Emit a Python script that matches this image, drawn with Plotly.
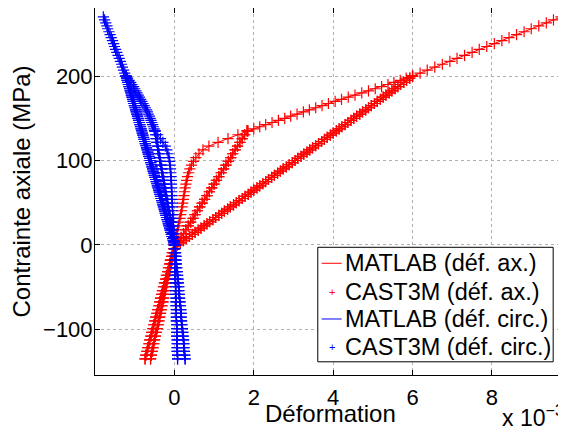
import plotly.graph_objects as go

# ---------------- Data (strain in units of 1e-3, stress in MPa) ----------------
# stress levels of each leg of the cyclic test
S_LOAD1 = [0, 4.5, 9, 13.5, 18, 22.5, 27, 31.5, 36, 40.5, 45, 49.5, 54, 58.5, 63, 67.5,
           72, 76.5, 81, 85.5, 90, 94.5, 99, 103.5, 108, 112.5, 117, 121.5, 126, 130.5, 135]
S_COMP = [0, -4.5, -9, -13.5, -18, -22.5, -27, -31.5, -36, -40.5, -45, -49.5, -54, -58.5, -63,
          -67.5, -72, -76.5, -81, -85.5, -90, -94.5, -99, -103.5, -108, -112.5, -117, -121.5,
          -126, -130.5, -135]
S_LOAD2 = [135, 137.5, 140, 142.5, 145, 147.5, 150, 152.5, 155, 157.5, 160, 162.5, 165, 167.5,
           170, 172.5, 175, 177.5, 180, 182.5, 185, 187.5, 190, 192.5, 195, 197.5, 200]
S_ELAS2 = [0, 2.5, 5, 7.5, 10, 12.5, 15, 17.5, 20, 22.5, 25, 27.5, 30, 32.5, 35, 37.5, 40, 42.5,
           45, 47.5, 50, 52.5, 55, 57.5, 60, 62.5, 65, 67.5, 70, 72.5, 75, 77.5, 80, 82.5, 85,
           87.5, 90, 92.5, 95, 97.5, 100, 102.5, 105, 107.5, 110, 112.5, 115, 117.5, 120, 122.5,
           125, 127.5, 130, 132.5, 135, 137.5, 140, 142.5, 145, 147.5, 150, 152.5, 155, 157.5,
           160, 162.5, 165, 167.5, 170, 172.5, 175, 177.5, 180, 182.5, 185, 187.5, 190, 192.5,
           195, 197.5, 200]
S_LOAD3 = [200, 203.5, 207, 210.5, 214, 217.5, 221, 224.5, 228, 231.5, 235, 238.5, 242, 245.5,
           249, 252.5, 256, 259.5, 263, 266.5, 270]

# axial strain (déf. ax.)
AX_LOAD1 = [0.0, 0.02, 0.04, 0.06, 0.08, 0.10, 0.12, 0.14, 0.16, 0.18, 0.195, 0.21, 0.225, 0.24,
            0.255, 0.27, 0.29, 0.31, 0.33, 0.36, 0.39, 0.43, 0.48, 0.54, 0.62, 0.72, 0.87, 1.10,
            1.35, 1.60, 1.85]
AX_ELAS1 = [0.05, 0.11, 0.17, 0.23, 0.29, 0.35, 0.41, 0.47, 0.52, 0.58, 0.64, 0.70, 0.76, 0.82,
            0.88, 0.94, 1.00, 1.06, 1.12, 1.18, 1.24, 1.30, 1.36, 1.42, 1.47, 1.53, 1.59, 1.65,
            1.71, 1.77, 1.83]
AX_COMP1 = [0.0, -0.02, -0.05, -0.07, -0.10, -0.12, -0.15, -0.17, -0.20, -0.22, -0.25, -0.27,
            -0.30, -0.32, -0.35, -0.37, -0.39, -0.42, -0.44, -0.47, -0.49, -0.52, -0.54, -0.57,
            -0.59, -0.62, -0.64, -0.67, -0.69, -0.72, -0.74]
AX_LOAD2 = [1.85, 2.00, 2.15, 2.30, 2.46, 2.62, 2.78, 2.93, 3.09, 3.25, 3.40, 3.56, 3.72, 3.88,
            4.05, 4.21, 4.38, 4.55, 4.72, 4.89, 5.06, 5.22, 5.38, 5.53, 5.69, 5.84, 6.00]
AX_ELAS2 = [0.08, 0.15, 0.23, 0.30, 0.38, 0.45, 0.52, 0.60, 0.67, 0.75, 0.82, 0.89, 0.97, 1.04,
            1.12, 1.19, 1.26, 1.34, 1.41, 1.49, 1.56, 1.63, 1.71, 1.78, 1.86, 1.93, 2.00, 2.08,
            2.15, 2.23, 2.30, 2.37, 2.45, 2.52, 2.60, 2.67, 2.74, 2.82, 2.89, 2.97, 3.04, 3.11,
            3.19, 3.26, 3.34, 3.41, 3.48, 3.56, 3.63, 3.71, 3.78, 3.85, 3.93, 4.00, 4.08, 4.15,
            4.22, 4.30, 4.37, 4.45, 4.52, 4.59, 4.67, 4.74, 4.82, 4.89, 4.96, 5.04, 5.11, 5.19,
            5.26, 5.33, 5.41, 5.48, 5.56, 5.63, 5.70, 5.78, 5.85, 5.93, 6.00]
AX_COMP2 = [0.02, 0.00, -0.02, -0.04, -0.06, -0.08, -0.10, -0.12, -0.15, -0.17, -0.19, -0.21,
            -0.23, -0.25, -0.27, -0.29, -0.31, -0.33, -0.35, -0.37, -0.39, -0.41, -0.43, -0.46,
            -0.48, -0.50, -0.52, -0.54, -0.56, -0.58, -0.60]
AX_LOAD3 = [6.00, 6.19, 6.37, 6.56, 6.75, 6.94, 7.12, 7.31, 7.50, 7.68, 7.87, 8.06, 8.25, 8.43,
            8.62, 8.81, 8.99, 9.18, 9.37, 9.55, 9.74]

# circumferential strain (déf. circ.)
CI_LOAD1 = [0.0, -0.005, -0.01, -0.015, -0.02, -0.025, -0.03, -0.035, -0.04, -0.045, -0.05,
            -0.052, -0.056, -0.06, -0.064, -0.068, -0.072, -0.077, -0.082, -0.09, -0.098, -0.107,
            -0.12, -0.135, -0.16, -0.19, -0.23, -0.29, -0.35, -0.42, -0.49]
CI_ELAS1 = [0.01, -0.01, -0.02, -0.04, -0.06, -0.07, -0.09, -0.11, -0.12, -0.14, -0.16, -0.17,
            -0.19, -0.21, -0.22, -0.24, -0.26, -0.27, -0.29, -0.31, -0.32, -0.34, -0.36, -0.37,
            -0.39, -0.41, -0.42, -0.44, -0.46, -0.47, -0.49]
CI_COMP1 = [0.01, 0.02, 0.03, 0.04, 0.04, 0.05, 0.06, 0.07, 0.08, 0.09, 0.10, 0.11, 0.11, 0.12,
            0.13, 0.14, 0.15, 0.16, 0.17, 0.17, 0.18, 0.19, 0.20, 0.21, 0.22, 0.23, 0.24, 0.24,
            0.25, 0.26, 0.27]
CI_LOAD2 = [-0.49, -0.51, -0.53, -0.55, -0.57, -0.59, -0.61, -0.63, -0.66, -0.68, -0.70, -0.73,
            -0.76, -0.79, -0.82, -0.85, -0.88, -0.91, -0.94, -0.97, -1.00, -1.03, -1.07, -1.10,
            -1.14, -1.18, -1.22]
CI_ELAS2 = [0.0, -0.015, -0.031, -0.046, -0.061, -0.076, -0.092, -0.107, -0.122, -0.137, -0.153,
            -0.168, -0.183, -0.198, -0.214, -0.229, -0.244, -0.259, -0.275, -0.290, -0.305,
            -0.320, -0.336, -0.351, -0.366, -0.381, -0.397, -0.412, -0.427, -0.442, -0.458,
            -0.473, -0.488, -0.503, -0.519, -0.534, -0.549, -0.564, -0.580, -0.595, -0.610,
            -0.625, -0.641, -0.656, -0.671, -0.686, -0.702, -0.717, -0.732, -0.747, -0.763,
            -0.778, -0.793, -0.808, -0.824, -0.839, -0.854, -0.869, -0.885, -0.900, -0.915,
            -0.930, -0.946, -0.961, -0.976, -0.991, -1.007, -1.022, -1.037, -1.052, -1.068,
            -1.083, -1.098, -1.113, -1.129, -1.144, -1.159, -1.174, -1.190, -1.205, -1.220]
CI_COMP2 = [0.00, 0.00, 0.01, 0.01, 0.01, 0.01, 0.02, 0.02, 0.02, 0.02, 0.03, 0.03, 0.03, 0.03,
            0.04, 0.04, 0.04, 0.05, 0.05, 0.05, 0.05, 0.06, 0.06, 0.06, 0.06, 0.07, 0.07, 0.07,
            0.07, 0.08, 0.08]
CI_LOAD3 = [-1.22, -1.25, -1.28, -1.31, -1.33, -1.36, -1.39, -1.42, -1.45, -1.48, -1.51, -1.53,
            -1.56, -1.59, -1.62, -1.65, -1.68, -1.70, -1.73, -1.76, -1.79]

X_TICKS = [0, 2, 4, 6, 8]
Y_TICKS = [-100, 0, 100, 200]

LABELS = ["MATLAB (déf. ax.)", "CAST3M (déf. ax.)", "MATLAB (déf. circ.)", "CAST3M (déf. circ.)"]
X_TITLE = "Déformation"
Y_TITLE = "Contrainte axiale (MPa)"
X_EXPONENT = "x 10<sup>−3</sup>"


def history(load1, elas1, comp1, load2, elas2, comp2, load3):
    """Chain the legs in the loading order of the cyclic test."""
    return (load1 + elas1[::-1] + comp1 + comp1[::-1] + elas1 + load2
            + elas2[::-1] + comp2 + comp2[::-1] + elas2 + load3)


stress = history(S_LOAD1, S_LOAD1, S_COMP, S_LOAD2, S_ELAS2, S_COMP, S_LOAD3)
eps_ax = history(AX_LOAD1, AX_ELAS1, AX_COMP1, AX_LOAD2, AX_ELAS2, AX_COMP2, AX_LOAD3)
eps_ci = history(CI_LOAD1, CI_ELAS1, CI_COMP1, CI_LOAD2, CI_ELAS2, CI_COMP2, CI_LOAD3)

RED = "#ff0000"
BLUE = "#0000ff"
FONT = "Liberation Sans, Arial, Helvetica, sans-serif"

fig = go.Figure()
for eps, col, lab_line, lab_mark in [(eps_ax, RED, LABELS[0], LABELS[1]),
                                     (eps_ci, BLUE, LABELS[2], LABELS[3])]:
    fig.add_trace(go.Scatter(x=eps, y=stress, mode="lines", name=lab_line,
                             line=dict(color=col, width=1), showlegend=False))
    fig.add_trace(go.Scatter(x=eps, y=stress, mode="markers", name=lab_mark,
                             marker=dict(symbol="cross-thin", size=8, color=col,
                                         line=dict(color=col, width=1.2)),
                             showlegend=False))

# ---- legend box drawn in the MATLAB style (paper coordinates of the plot area) ----
LEG_X0, LEG_X1, LEG_Y0, LEG_Y1 = 0.476, 0.979, 0.036, 0.348
ROW_Y = [0.3044, 0.2270, 0.1526, 0.0771]
SYM_X0, SYM_X1, SYM_XC, TEXT_X = 0.4844, 0.5271, 0.5058, 0.5299
row_styles = [("line", RED), ("plus", RED), ("line", BLUE), ("plus", BLUE)]

shapes = [dict(type="rect", xref="paper", yref="paper", x0=LEG_X0, x1=LEG_X1, y0=LEG_Y0,
               y1=LEG_Y1, line=dict(color="black", width=1), fillcolor="white", layer="above")]
annotations = []
for (kind, col), yy, lab in zip(row_styles, ROW_Y, LABELS):
    if kind == "line":
        shapes.append(dict(type="line", xref="paper", yref="paper", x0=SYM_X0, x1=SYM_X1,
                           y0=yy, y1=yy, line=dict(color=col, width=1), layer="above"))
    else:
        annotations.append(dict(text="+", xref="paper", yref="paper", x=SYM_XC, y=yy,
                                xanchor="center", yanchor="middle", showarrow=False,
                                font=dict(family=FONT, size=11, color=col)))
    annotations.append(dict(text=lab, xref="paper", yref="paper", x=TEXT_X, y=yy,
                            xanchor="left", yanchor="middle", showarrow=False,
                            font=dict(family=FONT, size=23.5, color="black")))

# x-axis label and the MATLAB exponent label under the axis
annotations.append(dict(text=X_TITLE, xref="paper", yref="paper", x=0.504, y=-0.106,
                        xanchor="center", yanchor="middle", showarrow=False,
                        font=dict(family=FONT, size=24, color="black")))
annotations.append(dict(text=X_EXPONENT, xref="paper", yref="paper",
                        x=0.866, y=-0.112, xanchor="left", yanchor="middle",
                        showarrow=False, font=dict(family=FONT, size=23, color="black")))

axis_common = dict(
    showline=True, linecolor="black", linewidth=1, mirror="ticks",
    ticks="inside", ticklen=5, tickwidth=1, tickcolor="black",
    showgrid=True, gridcolor="#b0b0b0", gridwidth=1, griddash="dot",
    zeroline=False, automargin=False,
    tickfont=dict(family=FONT, size=22, color="black"),
)

# the page adds an 8 px body margin; the figure is sized to fit inside the window
fig.update_layout(
    width=558, height=418,
    margin=dict(l=87, r=3, t=0, b=51),
    paper_bgcolor="white", plot_bgcolor="white",
    font=dict(family=FONT, size=22, color="black"),
    showlegend=False,
    xaxis=dict(range=[-2.0, 9.79], tickvals=X_TICKS, ticktext=[str(v) for v in X_TICKS],
               ticklabelstandoff=3, **axis_common),
    yaxis=dict(range=[-154, 280.6], tickvals=Y_TICKS, ticklabelstandoff=-3,
               title=dict(text=Y_TITLE, standoff=6, font=dict(family=FONT, size=24)),
               **axis_common),
    shapes=shapes,
    annotations=annotations,
)

fig.write_html("out.html")
